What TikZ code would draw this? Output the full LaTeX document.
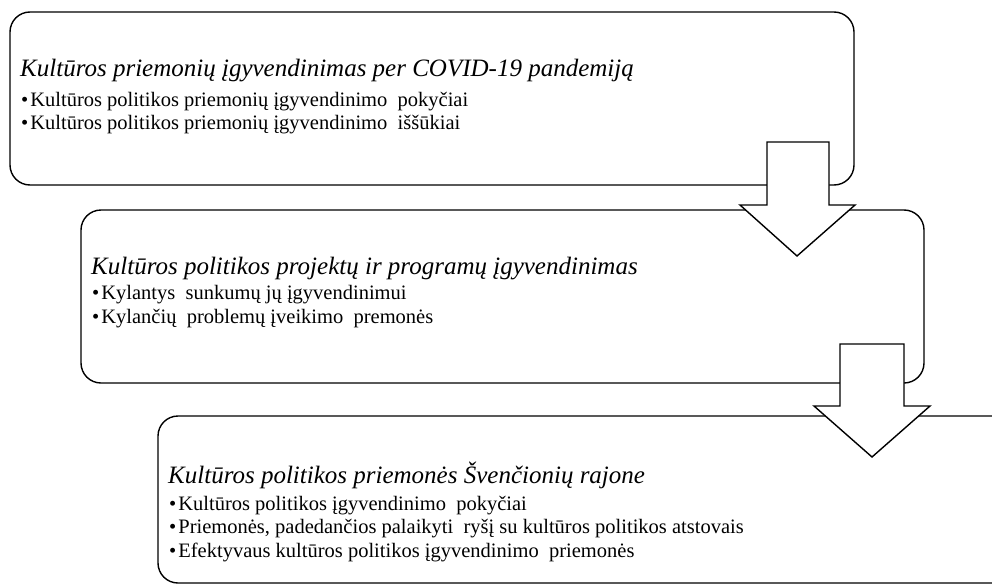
\documentclass[tikz,border=0pt]{standalone}
\usepackage{fontspec}
\setmainfont{Liberation Serif}
\newcommand{\bul}{•\kern2pt}
\begin{document}
\begin{tikzpicture}[x=1pt,y=-1pt,
  box/.style={draw=black, line width=1.4pt, rounded corners=20pt, fill=white},
  blockarrow/.style={draw=black, line width=1.4pt, fill=white, line join=miter},
  ttl/.style={anchor=base west, inner sep=0pt, font=\fontsize{25}{28}\selectfont\itshape},
  itm/.style={anchor=base west, inner sep=0pt, font=\fontsize{20.5}{24}\selectfont}]
\useasboundingbox (0,0) rectangle (992,586);
% boxes
\draw[box] (10,12) rectangle (854,185);
\draw[box] (81,210) rectangle (924,383);
\draw[box] (158,416) rectangle (1014,583);
% texts box 1
\node[ttl] (t1) at (20,76) {Kultūros priemonių įgyvendinimas per COVID-19 pandemiją};
\node[itm] (t1a) at (21,106) {\bul Kultūros politikos priemonių įgyvendinimo\ \ pokyčiai};
\node[itm] (t1b) at (21,129) {\bul Kultūros politikos priemonių įgyvendinimo\ \ iššūkiai};
% texts box 2
\node[ttl] (t2) at (91,274) {Kultūros politikos projektų ir programų įgyvendinimas};
\node[itm] (t2a) at (92,299) {\bul Kylantys\ \ sunkumų jų įgyvendinimui};
\node[itm] (t2b) at (92,323) {\bul Kylančių\ \ problemų įveikimo\ \ premonės};
% texts box 3
\node[ttl] (t3) at (168,483) {Kultūros politikos priemonės Švenčionių rajone};
\node[itm] (t3a) at (169,510) {\bul Kultūros politikos įgyvendinimo\ \ pokyčiai};
\node[itm] (t3b) at (169,533) {\bul Priemonės, padedančios palaikyti\ \ ryšį su kultūros politikos atstovais};
\node[itm] (t3c) at (169,557) {\bul Efektyvaus kultūros politikos įgyvendinimo\ \ priemonės};
% arrows
\draw[blockarrow] (767,142) -- (829,142) -- (829,205) -- (855,205) -- (797,256) -- (740,205) -- (767,205) -- cycle;
\draw[blockarrow] (840,344) -- (904,344) -- (904,406) -- (930,406) -- (872,457) -- (814,406) -- (840,406) -- cycle;
\end{tikzpicture}
\end{document}
